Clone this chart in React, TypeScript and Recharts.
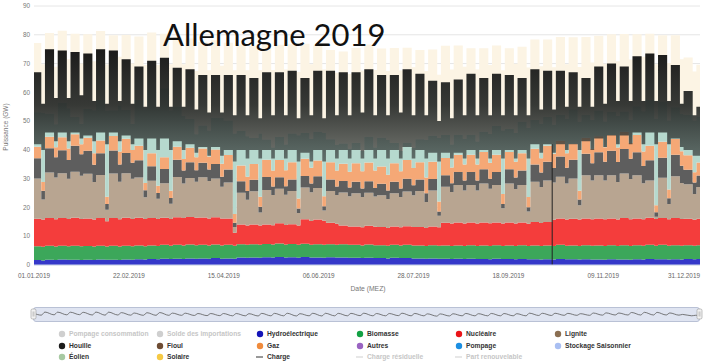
import React from "react";
import {
  ComposedChart,
  LineChart,
  Area,
  Line,
  XAxis,
  YAxis,
  CartesianGrid,
  ReferenceLine,
} from "recharts";

// jours de l'année (0 = 01.01.2019) : début de chaque semaine ouvrée puis du week-end
const jours: number[] = [];
for (let k = 0; k < 52; k++) {
  jours.push(k === 0 ? 0 : 7 * k - 1, 7 * k + 4);
}
jours.push(363, 365);

const graduationsJours = [0, 52, 104, 156, 208, 260, 312, 364];
const etiquettesDates = [
  "01.01.2019", "22.02.2019", "15.04.2019", "06.06.2019",
  "28.07.2019", "18.09.2019", "09.11.2019", "31.12.2019",
];
const graduationsGW = [0, 10, 20, 30, 40, 50, 60, 70, 80, 90];

// valeurs en GW, par paires semaine / week-end
const hydro = [
  1.7, 1.6, 1.8, 1.7, 1.9, 1.8, 1.8, 1.7, 1.8, 1.7, 1.9, 1.8, 1.8, 1.7, 1.9, 1.8, 2.0, 1.9, 2.1, 2.0, 2.2, 2.1, 2.2, 2.1,
  2.3, 2.2, 2.3, 2.2, 2.4, 2.2, 2.3, 2.2, 2.6, 2.5, 2.6, 2.5, 2.7, 2.6, 2.8, 2.6, 2.7, 2.5, 2.8, 2.6, 2.6, 2.5, 2.7, 2.6,
  2.6, 2.5, 2.5, 2.4, 2.5, 2.4, 2.4, 2.3, 2.5, 2.4, 2.4, 2.3, 2.3, 2.2, 2.3, 2.2, 2.2, 2.1, 2.2, 2.1, 2.2, 2.1, 2.1, 2.0,
  2.2, 2.1, 2.1, 2.0, 2.1, 2.0, 2.0, 1.9, 2.0, 1.9, 2.1, 2.0, 2.0, 1.9, 2.0, 1.9, 1.9, 1.8, 2.0, 1.9, 1.9, 1.8, 2.0, 1.9,
  2.1, 2.0, 2.0, 1.9, 2.0, 1.9, 2.1, 2.0, 2.1, 2.1,
];
const biomasse = [
  4.8, 4.7, 4.9, 4.7, 4.8, 4.7, 4.9, 4.8, 4.8, 4.7, 4.8, 4.6, 4.9, 4.7, 4.8, 4.7, 4.8, 4.6, 4.7, 4.6, 4.8, 4.6, 4.8, 4.7,
  4.8, 4.7, 4.7, 4.6, 4.7, 4.6, 4.7, 4.5, 4.6, 4.5, 4.6, 4.5, 4.6, 4.5, 4.7, 4.5, 4.6, 4.5, 4.6, 4.4, 4.6, 4.5, 4.5, 4.4,
  4.6, 4.5, 4.5, 4.4, 4.6, 4.5, 4.5, 4.4, 4.5, 4.4, 4.6, 4.5, 4.5, 4.4, 4.6, 4.5, 4.6, 4.5, 4.6, 4.5, 4.7, 4.5, 4.7, 4.6,
  4.7, 4.5, 4.7, 4.6, 4.8, 4.6, 4.8, 4.7, 4.8, 4.7, 4.9, 4.7, 4.8, 4.7, 4.9, 4.8, 4.9, 4.8, 4.9, 4.7, 5.0, 4.8, 4.9, 4.8,
  4.9, 4.7, 5.0, 4.8, 4.9, 4.8, 4.8, 4.7, 4.8, 4.8,
];
const nucleaire = [
  9.6, 9.5, 9.6, 9.5, 9.6, 9.5, 9.7, 9.5, 9.6, 9.4, 9.6, 8.8, 9.6, 9.5, 9.7, 9.5, 9.6, 9.5, 9.5, 9.4, 9.4, 9.3, 9.6, 9.5,
  9.6, 9.5, 9.5, 9.4, 9.5, 9.4, 9.2, 4.5, 6.9, 6.7, 6.9, 6.7, 6.8, 6.7, 7.0, 6.8, 6.9, 6.7, 8.5, 8.3, 8.6, 8.4, 7.5, 7.3,
  6.5, 6.4, 6.4, 6.3, 6.5, 6.4, 6.3, 6.2, 6.4, 6.3, 6.5, 6.4, 6.4, 6.3, 6.5, 6.4, 7.9, 7.8, 8.0, 7.8, 7.9, 7.8, 8.0, 7.9,
  7.9, 7.8, 8.0, 7.8, 7.9, 7.7, 8.1, 8.0, 8.1, 9.1, 9.2, 9.1, 9.3, 9.2, 9.3, 9.2, 9.4, 9.3, 9.3, 9.2, 9.4, 9.3, 9.3, 9.2,
  9.4, 9.3, 9.3, 9.2, 9.4, 9.3, 9.2, 9.0, 9.2, 9.2,
];
const lignite = [
  14, 7, 15.8, 14.5, 15.6, 14, 16, 15, 15.5, 13, 15, 4, 15.5, 13, 15.5, 14, 14, 7.5, 13, 7, 12, 5.3, 14, 12,
  13.5, 12.5, 14, 13, 13.5, 11, 12.5, 2, 11, 9, 11.5, 4.5, 12, 10.5, 12, 10.5, 11.5, 4.4, 11, 10, 11, 3.5, 11, 10,
  11.5, 10.5, 11.5, 10.5, 11.5, 10.5, 11, 10, 11.5, 10.5, 12, 11, 12.5, 9, 12.5, 4, 12.5, 11, 13, 11.5, 13, 11.5, 13.5, 12,
  13, 5.3, 13.5, 12, 13, 4.3, 14, 12.5, 14.5, 13, 14.5, 12.5, 14, 5, 15, 13.5, 15, 13.5, 15, 13, 15.5, 14, 15, 12.5,
  13, 0.8, 14, 5.3, 14.5, 12.5, 12, 9, 11, 11,
];
const houille = [
  7, 3, 8.5, 7, 8, 6.5, 9, 7.5, 8, 6, 7.5, 2, 8, 6, 7, 5.5, 6, 2.5, 5, 2, 5, 2, 6, 4.5,
  5.5, 4, 5, 4, 5, 3.5, 4.5, 1.5, 4, 3, 4, 2, 4.5, 3, 4, 3, 4, 1.5, 4, 3, 4, 1.5, 4, 3,
  4, 3, 4, 3, 4, 3, 4, 3, 4, 3, 4.5, 3.5, 4, 3, 4, 1.5, 4, 3, 4.5, 3.5, 4.5, 3.5, 5, 3.5,
  4.5, 1.5, 5, 4, 5, 1.5, 6, 5, 6.5, 5, 7, 5.5, 6.5, 2, 7.5, 6, 8, 6.5, 8.5, 7, 8.5, 7, 8, 6,
  7, 1.5, 7, 2, 7.5, 6, 5, 4, 4, 4,
];
const gaz = [
  4, 3, 4, 3.5, 4.5, 4, 4, 3.5, 4.5, 4, 4.5, 2.5, 5, 4.5, 5, 4.5, 5, 2.5, 4.5, 2.5, 4, 2.5, 4.5, 4,
  5, 4.5, 5, 4.5, 5, 4.5, 5, 3, 5.5, 5, 5.5, 3.5, 6, 5.5, 6, 5.5, 6, 3.5, 6, 5.5, 5.5, 3.5, 6, 5.5,
  6, 5.5, 6.5, 6, 6.5, 6, 6, 5.5, 6.5, 6, 6.5, 6, 6, 5.5, 6, 3.5, 6, 5.5, 6, 5.5, 6, 5.5, 6, 5.5,
  6, 3.5, 6, 5.5, 6, 3.5, 5.5, 5, 5.5, 5, 5.5, 5, 5.5, 3, 5.5, 5, 5.5, 5, 5.5, 5, 6, 5.5, 6, 5,
  5, 2.5, 5.5, 3, 5.5, 5, 5, 3.5, 4.5, 4.5,
];
const eolien = [
  12, 24, 8, 8, 12, 14, 6, 7, 10, 15, 14, 30, 9, 16, 10, 9, 16, 26, 22, 27, 24, 28, 14, 15,
  10, 8, 8, 9, 11, 16, 12, 28, 12, 14, 9, 22, 7, 8, 8, 9, 10, 22, 9, 10, 10, 22, 8, 9,
  7, 8, 7, 7, 9, 8, 10, 12, 7, 7, 6, 7, 8, 13, 9, 22, 8, 8, 7, 9, 7, 8, 7, 10,
  10, 22, 8, 10, 11, 24, 10, 12, 10, 10, 9, 12, 12, 24, 8, 10, 9, 9, 8, 11, 7, 8, 10, 14,
  16, 30, 14, 24, 11, 13, 14, 18, 16, 16,
];
const solaire = [
  24, 17, 28, 20, 25, 17, 29, 21, 26, 17, 24, 16, 26, 17, 26, 21, 22, 15, 20, 15, 19, 16, 24, 18,
  28, 22, 29, 21, 27, 18, 27, 22, 30, 23, 32, 22, 33, 27, 32, 26, 31, 22, 31, 26, 30, 22, 31, 25,
  32, 26, 33, 28, 32, 27, 31, 24, 33, 28, 33, 28, 31, 24, 30, 22, 31, 26, 31, 25, 30, 25, 29, 24,
  28, 21, 28, 24, 26, 21, 28, 20, 27, 20, 27, 19, 25, 19, 27, 20, 26, 20, 27, 19, 27, 21, 25, 19,
  23, 19, 23, 20, 25, 19, 20, 17, 18, 18,
];
const chargeBasse = [
  42, 40, 46, 43, 46, 43, 46, 44, 45, 43, 46, 42, 46, 43, 45, 42, 44, 40, 44, 40, 44, 40, 43, 40,
  42, 39, 41, 38, 41, 38, 40, 36, 40, 37, 40, 37, 40, 37, 40, 37, 40, 36, 39, 36, 40, 36, 40, 37,
  40, 37, 40, 37, 40, 37, 40, 37, 40, 37, 41, 37, 40, 37, 39, 36, 39, 37, 39, 37, 40, 37, 40, 37,
  40, 37, 40, 37, 40, 37, 42, 39, 42, 39, 42, 40, 42, 40, 43, 40, 44, 41, 45, 42, 45, 42, 46, 42,
  46, 42, 46, 42, 44, 41, 40, 38, 38, 38,
];
const chargeHaute = [
  67, 56, 75, 58, 74.5, 58, 74, 59, 73.5, 57, 75, 56, 74.5, 57, 71.5, 56, 69, 55, 71, 55, 72, 55, 68.5, 55,
  68, 54, 66, 53, 66, 53, 66, 52, 66, 52, 65, 51, 67, 52, 67, 52, 67.5, 51, 65, 52, 67.5, 51, 67.5, 52,
  67, 52, 67, 53, 68, 52, 66, 52, 66, 53, 68, 52, 66.5, 52, 64, 50, 63.5, 51, 64.5, 52, 66.5, 52, 65, 52,
  66.5, 52, 66, 52, 65, 52, 68, 54, 67.5, 54, 67.5, 55, 67, 55, 65, 55, 69, 56, 70, 57, 69, 57, 72.5, 57,
  73.5, 57, 73, 57, 69.5, 56, 60.5, 52, 55, 55,
];
// chute de la courbe de charge (lacune de données) mi-octobre
const creuxCharge = { jour: 284, haut: 42 };

const rows = jours.map((jour, i) => ({
  jour,
  hydro: hydro[i],
  biomasse: biomasse[i],
  nucleaire: nucleaire[i],
  lignite: lignite[i],
  houille: houille[i],
  gaz: gaz[i],
  eolien: eolien[i],
  solaire: solaire[i],
  charge: [chargeBasse[i], chargeHaute[i]],
  chargeHaute: chargeHaute[i],
}));

const couches = [
  { key: "hydro", color: "#3538c9" },
  { key: "biomasse", color: "#3ca75a" },
  { key: "nucleaire", color: "#f43d3c" },
  { key: "lignite", color: "#b8a591" },
  { key: "houille", color: "#5e5e5e" },
  { key: "gaz", color: "#f5a876" },
  { key: "eolien", color: "#b6d9ce" },
  { key: "solaire", color: "#fcf4e4" },
];

const legende = [
  { label: "Pompage consommation", color: "#cfcfcf", line: false, off: true },
  { label: "Solde des importations", color: "#cfcfcf", line: false, off: true },
  { label: "Hydroélectrique", color: "#1414b8", line: false, off: false },
  { label: "Biomasse", color: "#12a144", line: false, off: false },
  { label: "Nucléaire", color: "#ea1418", line: false, off: false },
  { label: "Lignite", color: "#8b6f52", line: false, off: false },
  { label: "Houille", color: "#1b1b1b", line: false, off: false },
  { label: "Fioul", color: "#6e4c33", line: false, off: false },
  { label: "Gaz", color: "#f08b3c", line: false, off: false },
  { label: "Autres", color: "#9a64c2", line: false, off: false },
  { label: "Pompage", color: "#1c8fe2", line: false, off: false },
  { label: "Stockage Saisonnier", color: "#a9bff2", line: false, off: false },
  { label: "Éolien", color: "#a7c9a2", line: false, off: false },
  { label: "Solaire", color: "#f6c944", line: false, off: false },
  { label: "Charge", color: "#333333", line: true, off: false },
  { label: "Charge résiduelle", color: "#cfcfcf", line: true, off: true },
  { label: "Part renouvelable", color: "#cfcfcf", line: true, off: true },
];
const colonnesLegende = [62, 160, 260, 360, 459, 558];
const lignesLegende = [334, 346, 357];

const police = "'Liberation Sans', Arial, sans-serif";

function DateTick({ x, y, payload }: any) {
  const i = graduationsJours.indexOf(payload.value);
  const dernier = x > 690;
  return (
    <text
      x={dernier ? 700 : x}
      y={y}
      dy="0.71em"
      textAnchor={dernier ? "end" : "middle"}
      fontSize={6.4}
      fill="#666"
      fontFamily={police}
    >
      {etiquettesDates[i]}
    </text>
  );
}

export default function App() {
  return (
    <div
      style={{
        position: "absolute",
        left: 0,
        top: 0,
        width: 713,
        height: 364,
        background: "#fff",
        overflow: "hidden",
      }}
    >
      <div style={{ position: "absolute", left: 0, top: 0 }}>
        <ComposedChart
          width={713}
          height={300}
          data={rows}
          margin={{ top: 6, right: 13, bottom: 0, left: 0 }}
        >
          <defs>
            <linearGradient id="degradeCharge" x1="0" y1="0" x2="0" y2="1">
              <stop offset="0%" stopColor="#121212" stopOpacity={0.96} />
              <stop offset="50%" stopColor="#262927" stopOpacity={0.92} />
              <stop offset="100%" stopColor="#3f4644" stopOpacity={0.72} />
            </linearGradient>
          </defs>
          <CartesianGrid vertical={false} stroke="#e6e6e6" />
          <XAxis
            dataKey="jour"
            type="number"
            domain={[0, 365]}
            ticks={graduationsJours}
            tick={<DateTick />}
            tickLine={false}
            tickSize={0}
            tickMargin={8}
            axisLine={{ stroke: "#ccd6eb" }}
            height={35}
            interval={0}
          />
          <YAxis
            domain={[0, 90]}
            ticks={graduationsGW}
            tick={{ fontSize: 6.4, fill: "#777", fontFamily: police }}
            tickLine={false}
            tickSize={0}
            tickMargin={4}
            axisLine={false}
            width={34}
            interval={0}
          />
          {couches.map((c) => (
            <Area
              key={c.key}
              dataKey={c.key}
              stackId="prod"
              type="stepAfter"
              stroke="none"
              fill={c.color}
              fillOpacity={1}
              isAnimationActive={false}
            />
          ))}
          <Area
            dataKey="charge"
            type="stepAfter"
            stroke="none"
            fill="url(#degradeCharge)"
            fillOpacity={1}
            isAnimationActive={false}
          />
          <ReferenceLine
            segment={[
              { x: creuxCharge.jour, y: 0 },
              { x: creuxCharge.jour, y: creuxCharge.haut },
            ]}
            stroke="#222"
            strokeWidth={1}
          />
        </ComposedChart>
      </div>

      <div
        style={{
          position: "absolute",
          left: 33,
          top: 307,
          width: 667,
          height: 15,
          background: "#dfe4f1",
          border: "1px solid #b9c1d5",
          borderRadius: 3,
          boxSizing: "border-box",
          overflow: "hidden",
        }}
      >
        <LineChart width={665} height={13} data={rows} margin={{ top: 0, right: 0, bottom: 0, left: 0 }}>
          <XAxis dataKey="jour" type="number" domain={[0, 365]} hide />
          <YAxis domain={[20, 100]} hide />
          <Line
            dataKey="chargeHaute"
            type="monotone"
            stroke="#5a5a5a"
            strokeWidth={0.8}
            dot={false}
            isAnimationActive={false}
          />
        </LineChart>
      </div>

      <svg
        width={713}
        height={364}
        style={{ position: "absolute", left: 0, top: 0, pointerEvents: "none" }}
      >
        <text x={163} y={46} fontSize={31} fontFamily="Lato, 'Open Sans', sans-serif" fill="#111">
          Allemagne 2019
        </text>
        <text
          x={0}
          y={0}
          transform="translate(8,127) rotate(-90)"
          textAnchor="middle"
          fontSize={6.5}
          fill="#777"
          fontFamily={police}
        >
          Puissance (GW)
        </text>
        <text x={368} y={291} textAnchor="middle" fontSize={6.8} fill="#777" fontFamily={police}>
          Date (MEZ)
        </text>

        {[31, 697].map((hx) => (
          <g key={hx}>
            <rect x={hx} y={309} width={5} height={10} rx={1.5} fill="#f2f2f2" stroke="#999" strokeWidth={0.6} />
            <line x1={hx + 2} y1={311.5} x2={hx + 2} y2={316.5} stroke="#999" strokeWidth={0.5} />
            <line x1={hx + 3} y1={311.5} x2={hx + 3} y2={316.5} stroke="#999" strokeWidth={0.5} />
          </g>
        ))}

        {legende.map((item, i) => {
          const cx = colonnesLegende[i % 6];
          const cy = lignesLegende[Math.floor(i / 6)];
          return (
            <g key={item.label}>
              {item.line ? (
                <line x1={cx - 4} y1={cy} x2={cx + 3} y2={cy} stroke={item.color} strokeWidth={1} />
              ) : (
                <circle cx={cx} cy={cy} r={3.2} fill={item.color} />
              )}
              <text
                x={cx + 7}
                y={cy + 2.4}
                fontSize={6.7}
                fontWeight="bold"
                fill={item.off ? "#c6c6c6" : "#333"}
                fontFamily={police}
              >
                {item.label}
              </text>
            </g>
          );
        })}
      </svg>
    </div>
  );
}
